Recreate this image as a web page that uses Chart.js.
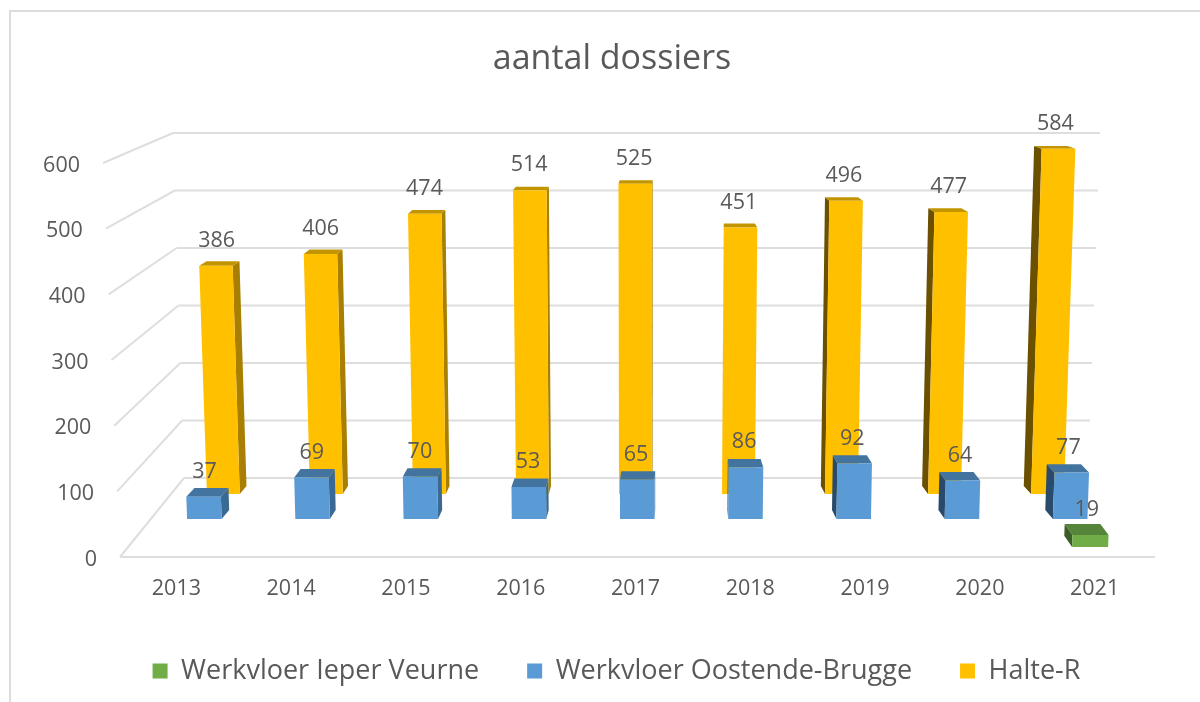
<!DOCTYPE html>
<html>
<head>
<meta charset="utf-8">
<title>aantal dossiers</title>
<script src="https://cdn.jsdelivr.net/npm/chart.js@4/dist/chart.umd.min.js"></script>
<style>
  html, body { margin: 0; padding: 0; background: #fff; }
  canvas { display: block; }
</style>
</head>
<body>
<canvas id="grafico" width="1200" height="702"></canvas>
<script>
const years = ["2013", "2014", "2015", "2016", "2017", "2018", "2019", "2020", "2021"];
const yTicks = [0, 100, 200, 300, 400, 500, 600];
const ieperVeurne = [null, null, null, null, null, null, null, null, 19];
const oostendeBrugge = [37, 69, 70, 53, 65, 86, 92, 64, 77];
const halteR = [386, 406, 474, 514, 525, 451, 496, 477, 584];

const TEXT = "#595959";
const GRID = "#dedede";
const FONT = "'Open Sans', sans-serif";

// how each series row sits in the 3D box, same order as the datasets
const rows = [
  { base: 547, yScale: 0.965, xRef: 1094, xAt: 1089.5, xScale: 0.983, depth: 0.0188,
    top: "#55853a", right: "#4a7530", left: "#3b5e28" },
  { base: 519, yScale: 0.918, xRef: 176, xAt: 204, xScale: 0.9429, depth: 0.016,
    top: "#4374a0", right: "#3a6a94", left: "#2a4a6c" },
  { base: 494, yScale: 0.9, xRef: 176, xAt: 223, xScale: 0.8976, depth: 0.0147,
    top: "#c29500", right: "#a87f00", left: "#6b5000" }
];
const vanish = { x: 695, y: -50 };
const leanX = 640;
const leanDist = 12850;

// ends of the wall lines, at value 0 and at value 600
const wall = { frontLeft: [120, 103], backLeft: [184, 173], backRight: [1088, 1100], backY: [478, 133] };

function mix(pair, v) {
  return pair[0] + (pair[1] - pair[0]) * v / 600;
}

function line(ctx, x1, y1, x2, y2) {
  ctx.beginPath();
  ctx.moveTo(x1, y1);
  ctx.lineTo(x2, y2);
  ctx.stroke();
}

function poly(ctx, pts, color) {
  ctx.fillStyle = color;
  ctx.beginPath();
  pts.forEach((p, i) => (i ? ctx.lineTo(p[0], p[1]) : ctx.moveTo(p[0], p[1])));
  ctx.closePath();
  ctx.fill();
}

// left faces look wider than the right ones in the original
function depthX(x, row) {
  const d = vanish.x - x;
  return d > 0 ? d * row.depth : -0.42 * Math.sqrt(Math.max(0, -d - 30));
}

function toBack(p, row) {
  return [p[0] + depthX(p[0], row), p[1] + (vanish.y - p[1]) * row.depth];
}

// front face of a bar element, moved from the axis plane into its row
function frontFace(el, row) {
  const cx = row.xAt + (el.x - row.xRef) * row.xScale;
  const half = el.width * row.xScale / 2;
  const h = (el.base - el.y) * row.yScale;
  const top = row.base - h;
  const lean = (x) => x + (x - leanX) * h / leanDist;
  return {
    bl: [cx - half, row.base],
    br: [cx + half, row.base],
    tr: [lean(cx + half), top],
    tl: [lean(cx - half), top]
  };
}

const box3d = {
  id: "box3d",
  afterLayout(chart) {
    chart.legend.left += 4.5;
    chart.legend.right += 4.5;
  },
  beforeDraw(chart) {
    const ctx = chart.ctx;
    ctx.save();
    ctx.strokeStyle = "#dcdcdc";
    ctx.lineWidth = 2;
    ctx.beginPath();
    ctx.moveTo(10, 702);
    ctx.lineTo(10, 11);
    ctx.lineTo(1200, 11);
    ctx.stroke();
    ctx.restore();
  },
  beforeDatasetsDraw(chart) {
    const ctx = chart.ctx;
    const y = chart.scales.y;
    ctx.save();
    ctx.strokeStyle = GRID;
    ctx.lineWidth = 2;
    yTicks.forEach((v) => {
      const fy = y.getPixelForValue(v);
      const fx = mix(wall.frontLeft, v);
      const bx = mix(wall.backLeft, v);
      const by = mix(wall.backY, v);
      line(ctx, fx, fy, bx, by);
      line(ctx, bx, by, mix(wall.backRight, v), by);
    });
    line(ctx, wall.frontLeft[0], y.getPixelForValue(0), chart.chartArea.right + 3, y.getPixelForValue(0));
    // y labels follow the slanted front edge
    ctx.fillStyle = TEXT;
    ctx.font = "21.5px " + FONT;
    ctx.textAlign = "right";
    ctx.textBaseline = "middle";
    yTicks.forEach((v) => {
      ctx.fillText(String(v), mix(wall.frontLeft, v) - 23, y.getPixelForValue(v) + 2.5);
    });
    ctx.restore();
  },
  beforeDatasetDraw(chart, args) {
    const ctx = chart.ctx;
    const row = rows[args.index];
    const color = chart.data.datasets[args.index].backgroundColor;
    args.meta.data.forEach((el, i) => {
      if (chart.data.datasets[args.index].data[i] === null) return;
      const f = frontFace(el, row);
      const bk = {
        bl: toBack(f.bl, row), br: toBack(f.br, row),
        tr: toBack(f.tr, row), tl: toBack(f.tl, row)
      };
      if (f.tr[0] < vanish.x) poly(ctx, [f.br, f.tr, bk.tr, bk.br], row.right);
      if (f.tl[0] > vanish.x) poly(ctx, [f.bl, f.tl, bk.tl, bk.bl], row.left);
      poly(ctx, [f.tl, f.tr, bk.tr, bk.tl], row.top);
      poly(ctx, [f.bl, f.br, f.tr, f.tl], color);
    });
    return false;
  },
  afterDatasetsDraw(chart) {
    const ctx = chart.ctx;
    ctx.save();
    ctx.fillStyle = TEXT;
    ctx.font = "21.5px " + FONT;
    ctx.textAlign = "center";
    ctx.textBaseline = "middle";
    chart.data.datasets.forEach((ds, d) => {
      const row = rows[d];
      chart.getDatasetMeta(d).data.forEach((el, i) => {
        if (ds.data[i] === null) return;
        const f = frontFace(el, row);
        const cx = (f.tl[0] + f.tr[0]) / 2;
        const off = (vanish.x - cx) * row.depth * 0.3 - 1.5;
        ctx.fillText(String(ds.data[i]), cx + off, f.tl[1] - 25);
      });
    });
    ctx.restore();
  }
};

new Chart(document.getElementById("grafico").getContext("2d"), {
  type: "bar",
  data: {
    labels: years,
    datasets: [
      { label: "Werkvloer Ieper Veurne", data: ieperVeurne, backgroundColor: "#70ad47" },
      { label: "Werkvloer Oostende-Brugge", data: oostendeBrugge, backgroundColor: "#5b9bd5" },
      { label: "Halte-R", data: halteR, backgroundColor: "#ffc000" }
    ]
  },
  options: {
    responsive: false,
    animation: false,
    devicePixelRatio: 1,
    layout: { padding: { left: 72, right: 48, top: 0, bottom: 7.5 } },
    datasets: { bar: { grouped: false, barPercentage: 0.319, categoryPercentage: 1, borderWidth: 0 } },
    scales: {
      x: {
        grid: { display: false },
        border: { display: false },
        ticks: { color: TEXT, font: { family: FONT, size: 21.5 }, padding: 11, maxRotation: 0 },
        afterFit(s) { s.height = 52.5; }
      },
      y: {
        min: 0,
        max: 600,
        grid: { display: false },
        border: { display: false },
        ticks: { display: false, stepSize: 100 },
        afterFit(s) { s.width = 47; }
      }
    },
    plugins: {
      title: {
        display: true,
        text: "aantal dossiers",
        color: TEXT,
        font: { family: FONT, size: 34, weight: "normal" },
        padding: { top: 38.6, bottom: 83.6 }
      },
      legend: {
        position: "bottom",
        labels: {
          color: TEXT,
          boxWidth: 15,
          boxHeight: 15,
          padding: 48,
          font: { family: FONT, size: 27 }
        }
      },
      tooltip: { enabled: false }
    }
  },
  plugins: [box3d]
});
</script>
</body>
</html>
